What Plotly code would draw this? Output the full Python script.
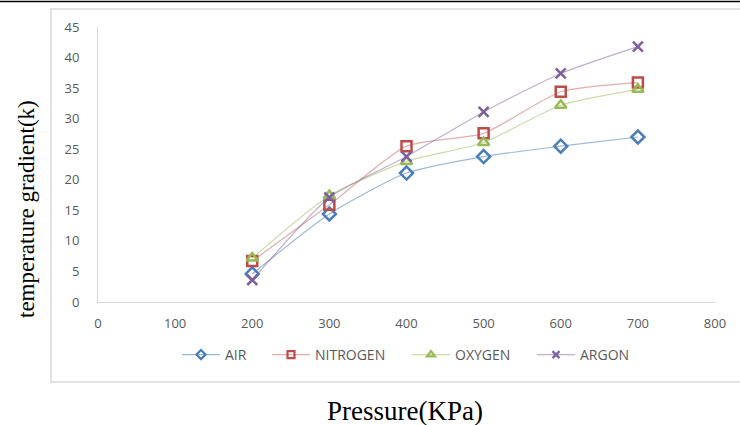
import plotly.graph_objects as go

pressure = [200, 300, 400, 500, 600, 700]
air = [4.6, 14.4, 21.1, 23.8, 25.5, 27.0]
nitrogen = [6.7, 15.9, 25.5, 27.6, 34.4, 35.9]
oxygen = [7.2, 17.4, 23.0, 26.1, 32.2, 34.8]
argon = [3.6, 17.1, 23.8, 31.1, 37.4, 41.8]

series = [
    ("AIR", air, "#4A7EBB", "rgba(74,126,187,0.55)", "diamond-open"),
    ("NITROGEN", nitrogen, "#BE4B48", "rgba(190,75,72,0.45)", "square-open"),
    ("OXYGEN", oxygen, "#98B954", "rgba(152,185,84,0.5)", "triangle-up-open"),
    ("ARGON", argon, "#7D60A0", "rgba(125,96,160,0.5)", "x-thin-open"),
]
legend_px = [180, 270, 410, 535]
legend_ids = ["legend", "legend2", "legend3", "legend4"]

fig = go.Figure()
for name, vals, mc, lc, sym in series:
    fig.add_trace(go.Scatter(
        x=pressure, y=vals, name=name, mode="lines+markers", showlegend=False,
        line=dict(color=lc, width=1.2, shape="spline", smoothing=0.6),
        marker=dict(symbol=sym, size=10, color=mc, line=dict(color=mc, width=2.5)),
    ))
# legend entries with smaller symbols, each in its own legend box
for (name, vals, mc, lc, sym), lid in zip(series, legend_ids):
    fig.add_trace(go.Scatter(
        x=[None], y=[None], name=name, mode="lines+markers", showlegend=True,
        legend=lid,
        line=dict(color=lc, width=1.2),
        marker=dict(symbol=sym, size=7, color=mc, line=dict(color=mc, width=2.2)),
    ))

tickfont = dict(family="Open Sans, Liberation Sans, sans-serif", size=13, color="#595959")
legfont = dict(family="Open Sans, Liberation Sans, sans-serif", size=14, color="#595959")
legend_layout = {}
for lid, px in zip(legend_ids, legend_px):
    legend_layout[lid] = dict(
        orientation="h", x=(px - 98 - 3) / 617, xanchor="left",
        y=(302 - 355) / 275, yanchor="middle",
        font=legfont, itemwidth=38, bgcolor="rgba(0,0,0,0)",
    )

fig.update_layout(
    width=740, height=425,
    margin=dict(l=98, r=25, t=27, b=123),
    paper_bgcolor="white", plot_bgcolor="white",
    showlegend=True,
    xaxis=dict(range=[0, 800], dtick=100, showgrid=False, zeroline=False,
               showline=True, linecolor="#D9D9D9", linewidth=1,
               tickfont=tickfont, ticks="", ticklabelstandoff=9, fixedrange=True),
    yaxis=dict(range=[0, 45], dtick=5, showgrid=False, zeroline=False,
               showline=True, linecolor="#D9D9D9", linewidth=1,
               tickfont=tickfont, ticks="", ticklabelstandoff=15, fixedrange=True),
    shapes=[
        dict(type="rect", xref="paper", yref="paper",
             x0=(51 - 98) / 617, x1=(760 - 98) / 617,
             y0=(302 - 382) / 275, y1=(302 - 9) / 275,
             line=dict(color="#D9D9D9", width=1.5), fillcolor="rgba(0,0,0,0)", layer="below"),
        dict(type="line", xref="paper", yref="paper",
             x0=-98 / 617, x1=(740 - 98) / 617,
             y0=(302 - 1.5) / 275, y1=(302 - 1.5) / 275,
             line=dict(color="black", width=1.5)),
    ],
    annotations=[
        dict(text="temperature gradient(k)", xref="paper", yref="paper",
             x=(26 - 98) / 617, y=(302 - 209) / 275, textangle=-90,
             showarrow=False, xanchor="center", yanchor="middle",
             font=dict(family="Liberation Serif, Times New Roman, serif", size=23, color="black")),
        dict(text="Pressure(KPa)", xref="paper", yref="paper",
             x=(405 - 98) / 617, y=(302 - 411) / 275,
             showarrow=False, xanchor="center", yanchor="middle",
             font=dict(family="Liberation Serif, Times New Roman, serif", size=27, color="black")),
    ],
    **legend_layout,
)

fig.write_html("out.html")
